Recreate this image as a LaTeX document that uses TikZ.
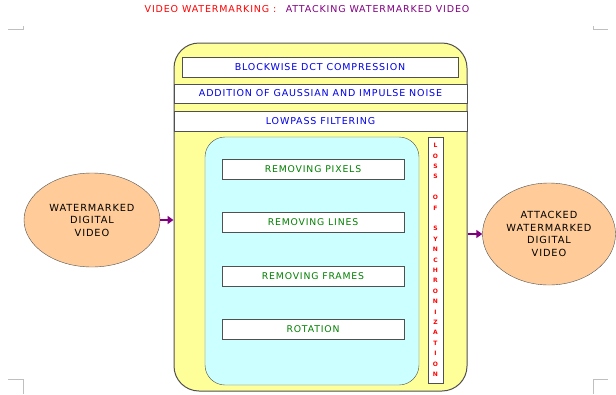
\documentclass[tikz,border=0pt]{standalone}
\usepackage{fontspec}
\setmainfont{DejaVu Sans}[LetterSpace=9]
\usetikzlibrary{shapes.geometric,arrows.meta}

\definecolor{attyellow}{RGB}{255,255,153}
\definecolor{attcyan}{RGB}{204,255,255}
\definecolor{attpeach}{RGB}{255,204,153}
\definecolor{attpurple}{RGB}{128,0,128}
\definecolor{attblue}{RGB}{0,0,230}
\definecolor{attgreen}{RGB}{0,128,0}
\definecolor{attedge}{RGB}{80,80,80}

\begin{document}
\begin{tikzpicture}[x=1pt,y=-1pt,
    band/.style={draw=attedge, fill=white, inner sep=0pt, minimum height=20pt,
                 text=attblue, font=\fontsize{9.5}{10}\selectfont},
    attack/.style={draw=attedge, fill=white, inner sep=0pt, minimum width=182pt,
                   minimum height=20pt, text=attgreen, font=\fontsize{9.3}{10}\selectfont},
    video/.style={ellipse, draw=attedge, fill=attpeach, inner sep=0pt, align=center,
                  font=\fontsize{9.8}{12.5}\selectfont},
    flow/.style={-{Triangle[length=6pt,width=8pt]}, line width=2pt, attpurple},
    cropmark/.style={draw=black!25, line width=0.8pt}]
    \useasboundingbox (0,0) rectangle (616,394);

    % title
    \node[font=\fontsize{9.5}{10}\selectfont] (title) at (307,9)
        {\textcolor{red}{VIDEO WATERMARKING :}\quad\textcolor{attpurple}{ATTACKING WATERMARKED VIDEO}};

    % page corners
    \draw[cropmark] (8,29) -- (23,29) -- (23,26);
    \draw[cropmark] (608,29) -- (593,29) -- (593,26);
    \draw[cropmark] (8,379) -- (23,379) -- (23,394);
    \draw[cropmark] (608,379) -- (593,379) -- (593,394);

    % box of attacks
    \node[draw=attedge, line width=1pt, fill=attyellow, rounded corners=25pt,
          minimum width=293pt, minimum height=348pt] (attacks) at (320.5,217) {};
    \node[band, minimum width=276pt] (dct) at (320,67) {BLOCKWISE DCT COMPRESSION};
    \node[band, minimum width=293pt, minimum height=19pt] (noise) at (320.5,93.5)
        {ADDITION OF GAUSSIAN AND IMPULSE NOISE};
    \node[band, minimum width=293pt] (lowpass) at (320.5,121) {LOWPASS FILTERING};

    % geometric attacks
    \node[draw=attedge, fill=attcyan, rounded corners=20pt,
          minimum width=214pt, minimum height=248pt] (geometric) at (312,261) {};
    \node[attack] (pixels) at (313,169) {REMOVING PIXELS};
    \node[attack] (lines) at (313,222) {REMOVING LINES};
    \node[attack] (frames) at (313,276) {REMOVING FRAMES};
    \node[attack] (rotation) at (313,329.5) {ROTATION};

    % loss of synchronization
    \node[draw=attedge, fill=white, inner sep=0pt, minimum width=15pt, minimum height=246pt,
          align=center, text=red, font=\bfseries\fontsize{6}{10.4}\selectfont] (sync) at (435.5,260)
        {L\\O\\S\\S\\~\\O\\F\\~\\S\\Y\\N\\C\\H\\R\\O\\N\\I\\Z\\A\\T\\I\\O\\N};

    % input and output
    \node[video, minimum width=136pt, minimum height=94pt] (wmvideo) at (92,220)
        {WATERMARKED\\DIGITAL\\VIDEO};
    \node[video, minimum width=133pt, minimum height=102pt] (attvideo) at (549,234)
        {ATTACKED\\WATERMARKED\\DIGITAL\\VIDEO};

    \draw[flow] (wmvideo.east) -- (wmvideo.east -| attacks.west);
    \draw[flow] (attacks.east |- attvideo.west) -- (attvideo.west);
\end{tikzpicture}
\end{document}
